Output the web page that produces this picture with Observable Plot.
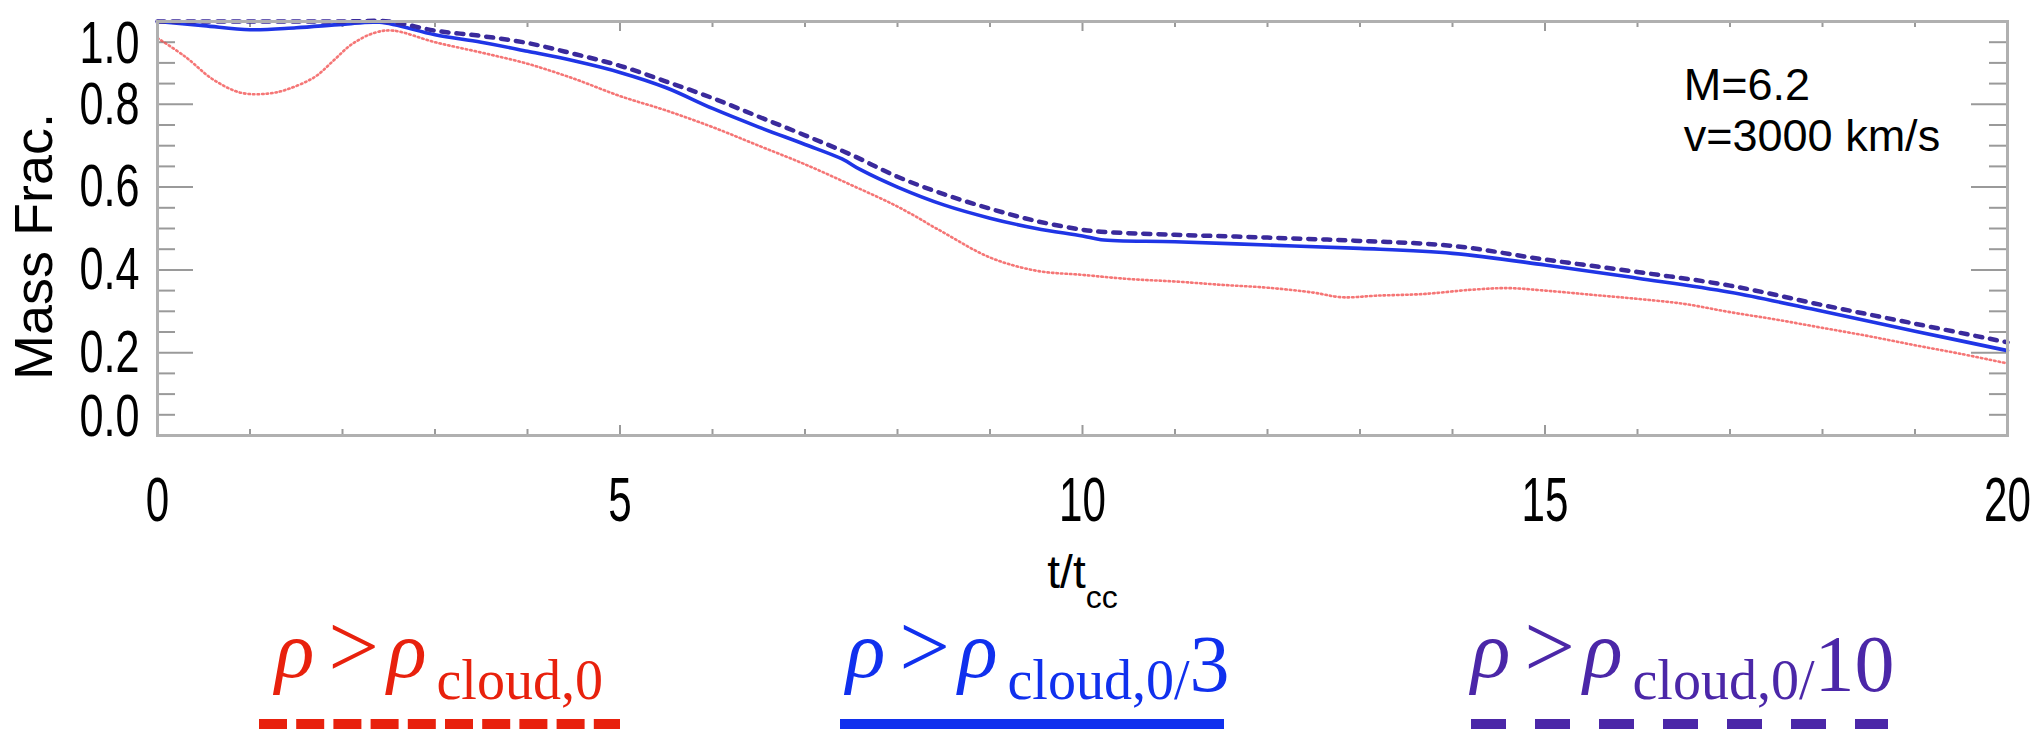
<!DOCTYPE html>
<html><head><meta charset="utf-8">
<script src="https://cdn.jsdelivr.net/npm/d3@7"></script>
<script src="https://cdn.jsdelivr.net/npm/@observablehq/plot@0.6"></script>
<style>body{margin:0;background:#fff;} #chart{width:2042px;} svg{display:block;}</style>
</head><body><div id="chart"></div>
<script>
// ---- data ----
const tRed = [0,0.3,0.6,0.9,1.2,1.4,1.7,1.9,2.1,2.35,2.55,3.0,3.5,4.0,4.5,5.0,5.5,6.0,6.5,7.0,7.5,8.0,8.5,9.0,9.5,10.0,10.5,11,11.5,12,12.5,12.8,13.2,13.7,14.2,14.6,15,15.5,16,16.5,17,17.5,18,18.5,19,19.5,20];
const mRed = [0.96,0.915,0.86,0.828,0.826,0.836,0.866,0.905,0.945,0.973,0.978,0.95,0.925,0.898,0.862,0.82,0.785,0.745,0.70,0.655,0.605,0.553,0.49,0.43,0.398,0.388,0.378,0.372,0.364,0.357,0.345,0.334,0.338,0.342,0.352,0.356,0.35,0.34,0.33,0.318,0.298,0.28,0.26,0.24,0.218,0.197,0.174];
const tBlue = [0,0.5,1.0,1.5,2.0,2.4,3.0,3.5,4.0,4.5,5.0,5.5,6.0,6.5,7.0,7.4,7.6,8.0,8.5,9.0,9.5,10.0,10.2,11,12,13,14,15,16,17,18,19,20];
const mBlue = [1.0,0.99,0.98,0.985,0.993,0.998,0.968,0.95,0.928,0.905,0.877,0.84,0.79,0.745,0.703,0.668,0.642,0.60,0.557,0.525,0.50,0.482,0.473,0.468,0.46,0.452,0.44,0.412,0.38,0.346,0.30,0.252,0.205];
const tPurple = [0,1,2,2.5,3,3.5,4,4.5,5,5.5,6,6.5,7,7.5,8,8.5,9,9.5,10,10.2,11,12,13,14,15,16,17,18,19,20];
const mPurple = [1.0,1.0,1.0,1.0,0.978,0.965,0.948,0.922,0.893,0.855,0.815,0.77,0.725,0.678,0.625,0.583,0.548,0.518,0.497,0.492,0.485,0.478,0.47,0.458,0.425,0.395,0.362,0.315,0.27,0.225];

const xTickLabels = [0,5,10,15,20];
const xMinorTicks = [1,2,3,4,6,7,8,9,11,12,13,14,16,17,18,19];
const yMidLabels = [0.2,0.4,0.6,0.8];
const yBottomLabel = [0.0];
const yTopLabel = [1.0];
const yMajorTicks = [0.2,0.4,0.6,0.8];
const yMinorTicks = [0.05,0.1,0.15,0.25,0.3,0.35,0.45,0.5,0.55,0.65,0.7,0.75,0.85,0.9,0.95];
const yLabel = "Mass Frac.";
const xLabel = "t/t";
const xLabelSub = "cc";
const note = "M=6.2\nv=3000 km/s";
const noteT = 16.5, noteM = 0.90;

const legendItems = [
  {name: "red",    color: "#e8210d", tail: null},
  {name: "blue",   color: "#1030ee", tail: "3"},
  {name: "purple", color: "#4b27a8", tail: "10"}
];

// ---- layout ----
const W = 2042, H = 615, mL = 157, mR = 35, mT = 21, mB = 180;
const pw = W - mL - mR, ph = H - mT - mB;
const rows = (t, m) => t.map((x, i) => ({t: x, m: m[i]}));
const tickStyle = {stroke: "#9a9a9a", strokeWidth: 2};
const fy = d => d;
const yTickText = {y: fy, text: d => d.toFixed(1), frameAnchor: "left", textAnchor: "end", dx: -18, fontSize: 60};

const plot = Plot.plot({
  width: W, height: H,
  marginLeft: mL, marginRight: mR, marginTop: mT, marginBottom: mB,
  x: {domain: [0, 20], axis: null},
  y: {domain: [0, 1], axis: null},
  style: {fontFamily: "'Liberation Sans', Arial, Helvetica, sans-serif", background: "#fff", color: "#000", overflow: "visible"},
  marks: [
    Plot.tickY(yMajorTicks, {y: fy, insetRight: pw - 36, ...tickStyle}),
    Plot.tickY(yMinorTicks, {y: fy, insetRight: pw - 18, ...tickStyle}),
    Plot.tickY(yMajorTicks, {y: fy, insetLeft: pw - 36, ...tickStyle}),
    Plot.tickY(yMinorTicks, {y: fy, insetLeft: pw - 18, ...tickStyle}),
    Plot.tickX(xMinorTicks, {x: fy, insetBottom: ph - 6, ...tickStyle}),
    Plot.tickX(xMinorTicks, {x: fy, insetTop: ph - 6, ...tickStyle}),
    Plot.tickX(xTickLabels, {x: fy, insetBottom: ph - 10, ...tickStyle}),
    Plot.tickX(xTickLabels, {x: fy, insetTop: ph - 10, ...tickStyle}),
    Plot.line(rows(tRed, mRed), {x: "t", y: "m", stroke: "#f24848", strokeWidth: 2.6, strokeDasharray: "1.5,3", strokeOpacity: 0.75, curve: "catmull-rom"}),
    Plot.line(rows(tBlue, mBlue), {x: "t", y: "m", stroke: "#1f35e6", strokeWidth: 3.6, curve: "catmull-rom"}),
    Plot.line(rows(tPurple, mPurple), {x: "t", y: "m", stroke: "#3a2a9c", strokeWidth: 4.5, strokeDasharray: "7,8", curve: "catmull-rom"}),
    Plot.frame({stroke: "#b0b0b0", strokeWidth: 3}),
    Plot.axisX(xTickLabels, {tickSize: 0, tickPadding: 41, fontSize: 62, label: null}),
    Plot.text(yMidLabels, {...yTickText, lineAnchor: "middle"}),
    Plot.text(yBottomLabel, {...yTickText, lineAnchor: "bottom"}),
    Plot.text(yTopLabel, {...yTickText, lineAnchor: "top", dy: -1}),
    Plot.text([yLabel], {text: d => d, frameAnchor: "left", rotate: -90, dx: -123, dy: 18, fontSize: 54, textAnchor: "middle"}),
    Plot.text([xLabel], {text: d => d, frameAnchor: "bottom", dy: 152, fontSize: 46, lineAnchor: "bottom"}),
    Plot.text([note], {x: () => noteT, y: () => noteM, text: d => d, textAnchor: "start", lineAnchor: "top", fontSize: 45, lineHeight: 1.15})
  ]
});

// condensed tick labels (scale about each label's anchor point)
const condense = (el, s) => {
  const tr = el.getAttribute("transform") || "";
  const x = +(el.getAttribute("x") || 0);
  el.setAttribute("transform", `${tr} translate(${x},0) scale(${s},1) translate(${-x},0)`);
};
const yTickStrings = [...yMidLabels, ...yBottomLabel, ...yTopLabel].map(d => d.toFixed(1));
const xTickStrings = xTickLabels.map(String);
d3.select(plot).selectAll("text").each(function() {
  const s = this.textContent;
  if (yTickStrings.includes(s)) condense(this, 0.72);
  else if (xTickStrings.includes(s)) condense(this, 0.68);
  else if (s === xLabel) d3.select(this).append("tspan").attr("dy", 20).attr("font-size", 32).text(xLabelSub);
});
document.getElementById("chart").appendChild(plot);

// ---- legend below the chart ----
const legendLayout = [
  {x: 275, line: [259, 620], dash: "28,9.2"},
  {x: 846, line: [840, 1224], dash: null},
  {x: 1471, line: [1471, 1888], dash: "35,29"}
];
const top0 = 615; // page y of the legend svg top
const mainBase = 677 - top0, subBase = 699 - top0, lineY = 724 - top0;
const leg = d3.create("svg").attr("width", W).attr("height", 733 - top0)
  .style("overflow", "visible")
  .style("font-family", "'Liberation Serif', 'DejaVu Serif', serif");
legendItems.forEach((it, i) => {
  const L = legendLayout[i];
  const tx = leg.append("text").attr("x", L.x).attr("y", mainBase).attr("fill", it.color).attr("font-size", 82);
  tx.append("tspan").attr("font-style", "italic").text("ρ");
  tx.append("tspan").attr("dx", 14).attr("font-size", 90).text(">");
  tx.append("tspan").attr("dx", 8).attr("font-style", "italic").text("ρ");
  tx.append("tspan").attr("dx", 10).attr("dy", subBase - mainBase).attr("font-size", 56).text("cloud,0" + (it.tail ? "/" : ""));
  if (it.tail) tx.append("tspan").attr("dy", -8).attr("font-size", 80).text(it.tail);
  const ln = leg.append("line").attr("x1", L.line[0]).attr("x2", L.line[1]).attr("y1", lineY).attr("y2", lineY)
    .attr("stroke", it.color).attr("stroke-width", 10);
  if (L.dash) ln.attr("stroke-dasharray", L.dash);
});
document.getElementById("chart").appendChild(leg.node());
</script>
</body></html>
